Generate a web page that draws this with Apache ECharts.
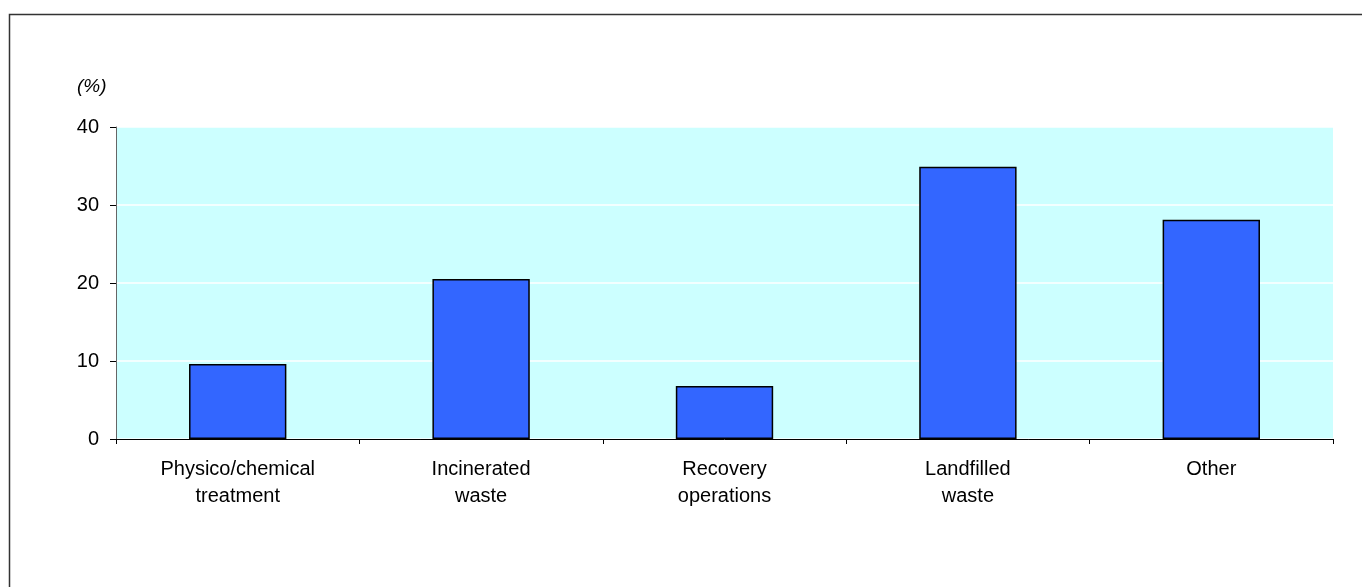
<!DOCTYPE html>
<html><head><meta charset="utf-8">
<script src="https://cdn.jsdelivr.net/npm/echarts@6/dist/echarts.min.js"></script>
<style>html,body{margin:0;padding:0;background:#fff}#c{width:1362px;height:587px}</style>
</head><body><div id="c"></div>
<script>
const categories = ['Physico/chemical\ntreatment', 'Incinerated\nwaste', 'Recovery\noperations', 'Landfilled\nwaste', 'Other'];
const values = [9.6, 20.5, 6.8, 34.9, 28.1];
const yTicks = [0, 10, 20, 30, 40];
const unitLabel = '(%)';

const chart = echarts.init(document.getElementById('c'), null, {renderer: 'canvas'});
chart.setOption({
  animation: false,
  backgroundColor: '#fff',
  textStyle: {fontFamily: 'Liberation Sans, Arial, sans-serif'},
  graphic: [
    {type: 'rect', shape: {x: 9.5, y: 14.5, width: 1400, height: 700}, style: {fill: 'none', stroke: '#333', lineWidth: 1.5}, z: 10},
    {type: 'text', left: 77, top: 77, style: {text: unitLabel, font: 'italic 19px Liberation Sans, Arial, sans-serif', fill: '#000'}}
  ],
  grid: {left: 116, right: 29, top: 127, bottom: 148, show: true, backgroundColor: '#ccffff', borderWidth: 0},
  xAxis: {
    type: 'category', data: categories, boundaryGap: true,
    axisLine: {lineStyle: {color: '#000', width: 1}},
    axisTick: {show: true, length: 5, lineStyle: {color: '#000'}},
    axisLabel: {color: '#000', fontSize: 20, margin: 17, lineHeight: 27, interval: 0}
  },
  yAxis: {
    type: 'value', min: yTicks[0], max: yTicks[yTicks.length - 1], interval: 10,
    axisLine: {show: true, lineStyle: {color: '#666', width: 1}},
    axisTick: {show: true, length: 6, lineStyle: {color: '#000'}},
    axisLabel: {color: '#000', fontSize: 20, margin: 17},
    splitLine: {show: true, lineStyle: {color: '#ffffff', width: 1.5}}
  },
  series: [{
    type: 'bar', data: values, barWidth: '40%',
    itemStyle: {color: '#3366ff', borderColor: '#000', borderWidth: 1.5}
  }]
});
</script></body></html>
